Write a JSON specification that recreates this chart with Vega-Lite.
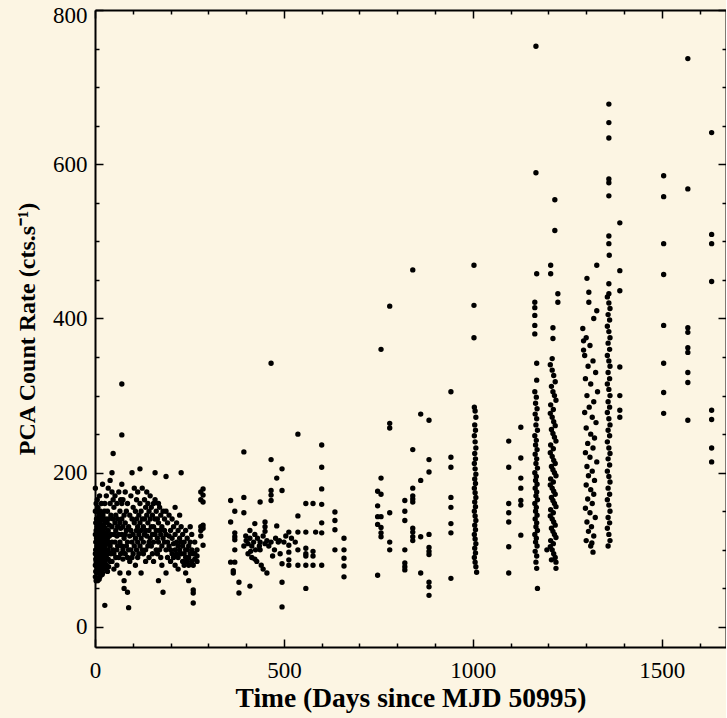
{
"$schema": "https://vega.github.io/schema/vega-lite/v6.json",
"width": 631, "height": 637,
"autosize": "none",
"padding": {"left": 95, "top": 10, "right": 0, "bottom": 71},
"background": "#fcf5e3",
"config": {"view": {"stroke": null},
 "axis": {"domainColor": "black", "domainWidth": 2, "tickColor": "black", "tickWidth": 1.5, "grid": false,
  "labelFont": "Liberation Serif", "labelFontSize": 23, "labelColor": "black", "format": "d",
  "titleFont": "Liberation Serif", "titleFontWeight": "bold", "titleColor": "black"}},
"resolve": {"axis": {"x": "independent", "y": "independent"}},
"layer": [
{
"data": {"values": [
{"d":1,"r":180},{"d":1,"r":150},{"d":1,"r":120},{"d":1,"r":95},{"d":1,"r":80},{"d":1,"r":65},
{"d":2,"r":135},{"d":2,"r":110},{"d":2,"r":88},{"d":2,"r":72},{"d":2,"r":100},
{"d":3,"r":160},{"d":3,"r":125},{"d":3,"r":100},{"d":3,"r":85},{"d":3,"r":60},
{"d":4,"r":140},{"d":4,"r":115},{"d":4,"r":92},{"d":4,"r":78},
{"d":5,"r":105},{"d":5,"r":130},{"d":5,"r":70},{"d":5,"r":150},
{"d":6,"r":95},{"d":6,"r":118},{"d":6,"r":82},{"d":6,"r":165},
{"d":7,"r":110},{"d":7,"r":88},{"d":7,"r":140},{"d":7,"r":60},
{"d":8,"r":125},{"d":8,"r":98},{"d":8,"r":75},{"d":8,"r":155},
{"d":9,"r":102},{"d":9,"r":132},{"d":9,"r":86},
{"d":10,"r":115},{"d":10,"r":90},{"d":10,"r":145},{"d":10,"r":70},
{"d":11,"r":128},{"d":11,"r":104},{"d":11,"r":84},{"d":11,"r":62},
{"d":12,"r":120},{"d":12,"r":95},{"d":12,"r":80},{"d":12,"r":170},
{"d":13,"r":108},{"d":13,"r":135},{"d":13,"r":65},
{"d":14,"r":92},{"d":14,"r":118},{"d":14,"r":150},
{"d":15,"r":112},{"d":15,"r":98},{"d":15,"r":138},{"d":15,"r":76},
{"d":16,"r":130},{"d":16,"r":100},{"d":16,"r":85},{"d":16,"r":75},
{"d":17,"r":112},{"d":17,"r":160},{"d":17,"r":95},
{"d":18,"r":105},{"d":18,"r":88},{"d":18,"r":140},
{"d":19,"r":122},{"d":19,"r":96},{"d":19,"r":68},
{"d":20,"r":125},{"d":20,"r":98},{"d":20,"r":70},{"d":20,"r":185},
{"d":21,"r":115},{"d":21,"r":80},{"d":21,"r":145},
{"d":22,"r":132},{"d":22,"r":106},{"d":22,"r":90},
{"d":23,"r":100},{"d":23,"r":130},{"d":23,"r":90},
{"d":24,"r":138},{"d":24,"r":110},{"d":24,"r":75},
{"d":25,"r":120},{"d":25,"r":102},{"d":25,"r":150},
{"d":26,"r":118},{"d":26,"r":95},{"d":26,"r":160},{"d":26,"r":28},
{"d":27,"r":105},{"d":27,"r":85},{"d":27,"r":128},
{"d":28,"r":115},{"d":28,"r":92},{"d":28,"r":78},
{"d":29,"r":140},{"d":29,"r":100},{"d":29,"r":112},
{"d":30,"r":122},{"d":30,"r":90},{"d":30,"r":80},{"d":30,"r":170},
{"d":32,"r":108},{"d":32,"r":135},{"d":32,"r":95},
{"d":33,"r":150},{"d":33,"r":115},{"d":33,"r":72},
{"d":35,"r":125},{"d":35,"r":100},{"d":35,"r":88},{"d":35,"r":180},
{"d":36,"r":110},{"d":36,"r":140},{"d":36,"r":78},
{"d":38,"r":132},{"d":38,"r":96},{"d":38,"r":118},
{"d":40,"r":105},{"d":40,"r":160},{"d":40,"r":85},{"d":40,"r":190},
{"d":42,"r":120},{"d":42,"r":95},{"d":42,"r":145},
{"d":45,"r":200},{"d":45,"r":175},{"d":45,"r":130},{"d":45,"r":110},{"d":45,"r":85},
{"d":48,"r":225},{"d":48,"r":165},{"d":48,"r":140},{"d":48,"r":100},
{"d":50,"r":120},{"d":50,"r":95},{"d":50,"r":155},{"d":50,"r":75},
{"d":53,"r":170},{"d":53,"r":135},{"d":53,"r":110},
{"d":55,"r":145},{"d":55,"r":90},{"d":55,"r":125},
{"d":58,"r":160},{"d":58,"r":118},{"d":58,"r":100},{"d":58,"r":80},
{"d":60,"r":140},{"d":60,"r":105},{"d":60,"r":130},
{"d":63,"r":175},{"d":63,"r":120},{"d":63,"r":90},
{"d":66,"r":150},{"d":66,"r":110},{"d":66,"r":135},{"d":66,"r":70},
{"d":68,"r":165},{"d":68,"r":128},{"d":68,"r":95},
{"d":71,"r":315},{"d":71,"r":249},{"d":71,"r":185},{"d":71,"r":160},{"d":71,"r":140},{"d":71,"r":120},{"d":71,"r":105},
{"d":74,"r":130},{"d":74,"r":100},{"d":74,"r":165},{"d":74,"r":88},
{"d":77,"r":145},{"d":77,"r":115},{"d":77,"r":60},{"d":77,"r":50},
{"d":80,"r":120},{"d":80,"r":95},{"d":80,"r":175},{"d":80,"r":135},
{"d":83,"r":105},{"d":83,"r":150},{"d":83,"r":125},
{"d":86,"r":160},{"d":86,"r":110},{"d":86,"r":90},{"d":86,"r":45},
{"d":89,"r":130},{"d":89,"r":100},{"d":89,"r":25},{"d":89,"r":70},
{"d":92,"r":145},{"d":92,"r":118},{"d":92,"r":85},
{"d":95,"r":170},{"d":95,"r":125},{"d":95,"r":100},
{"d":98,"r":200},{"d":98,"r":140},{"d":98,"r":110},{"d":98,"r":90},
{"d":101,"r":155},{"d":101,"r":120},{"d":101,"r":95},
{"d":104,"r":135},{"d":104,"r":105},{"d":104,"r":180},
{"d":107,"r":150},{"d":107,"r":115},{"d":107,"r":80},
{"d":110,"r":125},{"d":110,"r":100},{"d":110,"r":165},{"d":110,"r":140},
{"d":113,"r":175},{"d":113,"r":130},{"d":113,"r":110},{"d":113,"r":90},
{"d":116,"r":145},{"d":116,"r":120},{"d":116,"r":95},
{"d":119,"r":205},{"d":119,"r":160},{"d":119,"r":135},{"d":119,"r":105},
{"d":122,"r":150},{"d":122,"r":115},{"d":122,"r":125},{"d":122,"r":70},
{"d":125,"r":140},{"d":125,"r":100},{"d":125,"r":180},
{"d":128,"r":130},{"d":128,"r":110},{"d":128,"r":95},
{"d":131,"r":165},{"d":131,"r":120},{"d":131,"r":140},
{"d":134,"r":155},{"d":134,"r":125},{"d":134,"r":100},{"d":134,"r":85},
{"d":137,"r":145},{"d":137,"r":118},{"d":137,"r":175},
{"d":140,"r":135},{"d":140,"r":105},{"d":140,"r":160},
{"d":143,"r":150},{"d":143,"r":125},{"d":143,"r":110},{"d":143,"r":90},
{"d":146,"r":170},{"d":146,"r":140},{"d":146,"r":115},
{"d":149,"r":130},{"d":149,"r":105},{"d":149,"r":155},
{"d":152,"r":145},{"d":152,"r":120},{"d":152,"r":95},
{"d":155,"r":160},{"d":155,"r":130},{"d":155,"r":110},{"d":155,"r":85},
{"d":159,"r":200},{"d":159,"r":165},{"d":159,"r":140},{"d":159,"r":120},
{"d":162,"r":150},{"d":162,"r":125},{"d":162,"r":100},
{"d":165,"r":140},{"d":165,"r":115},{"d":165,"r":95},
{"d":168,"r":135},{"d":168,"r":110},{"d":168,"r":160},{"d":168,"r":60},
{"d":171,"r":155},{"d":171,"r":125},{"d":171,"r":100},
{"d":174,"r":145},{"d":174,"r":120},{"d":174,"r":90},
{"d":177,"r":130},{"d":177,"r":105},{"d":177,"r":80},
{"d":180,"r":150},{"d":180,"r":115},{"d":180,"r":45},
{"d":184,"r":140},{"d":184,"r":110},{"d":184,"r":125},
{"d":188,"r":195},{"d":188,"r":150},{"d":188,"r":120},{"d":188,"r":100},{"d":188,"r":70},
{"d":192,"r":135},{"d":192,"r":110},{"d":192,"r":90},
{"d":196,"r":145},{"d":196,"r":118},{"d":196,"r":105},
{"d":200,"r":125},{"d":200,"r":100},{"d":200,"r":85},
{"d":204,"r":140},{"d":204,"r":115},{"d":204,"r":95},
{"d":208,"r":130},{"d":208,"r":108},{"d":208,"r":90},
{"d":212,"r":120},{"d":212,"r":100},{"d":212,"r":80},{"d":212,"r":155},
{"d":216,"r":135},{"d":216,"r":110},{"d":216,"r":95},
{"d":220,"r":125},{"d":220,"r":105},{"d":220,"r":90},{"d":220,"r":75},
{"d":224,"r":145},{"d":224,"r":115},{"d":224,"r":100},
{"d":228,"r":200},{"d":228,"r":130},{"d":228,"r":110},{"d":228,"r":95},
{"d":232,"r":120},{"d":232,"r":105},{"d":232,"r":85},
{"d":236,"r":110},{"d":236,"r":95},{"d":236,"r":80},
{"d":240,"r":125},{"d":240,"r":100},{"d":240,"r":90},{"d":240,"r":70},
{"d":244,"r":115},{"d":244,"r":100},{"d":244,"r":85},
{"d":248,"r":105},{"d":248,"r":90},{"d":248,"r":80},{"d":248,"r":60},
{"d":252,"r":130},{"d":252,"r":110},{"d":252,"r":95},
{"d":256,"r":100},{"d":256,"r":85},{"d":256,"r":120},
{"d":260,"r":95},{"d":260,"r":80},{"d":260,"r":48},{"d":260,"r":44},{"d":260,"r":31},
{"d":264,"r":110},{"d":264,"r":95},{"d":264,"r":88},
{"d":270,"r":100},{"d":270,"r":92},{"d":270,"r":85},
{"d":280,"r":175},{"d":280,"r":165},{"d":280,"r":130},{"d":280,"r":125},{"d":280,"r":118},
{"d":286,"r":179},{"d":286,"r":171},{"d":286,"r":162},{"d":286,"r":132},{"d":286,"r":128},{"d":286,"r":106},
{"d":359,"r":164},{"d":359,"r":136},{"d":359,"r":84},{"d":366,"r":70},{"d":366,"r":73},{"d":370,"r":150},{"d":370,"r":122},{"d":370,"r":117},{"d":370,"r":113},{"d":370,"r":84},{"d":370,"r":100},
{"d":381,"r":58},{"d":381,"r":44},{"d":394,"r":227},{"d":394,"r":168},{"d":394,"r":148},{"d":394,"r":105},{"d":399,"r":118},{"d":405,"r":95},{"d":410,"r":53},{"d":410,"r":125},{"d":415,"r":90},
{"d":423,"r":134},{"d":423,"r":120},{"d":423,"r":88},{"d":428,"r":85},{"d":437,"r":162},{"d":437,"r":110},{"d":437,"r":100},{"d":440,"r":80},{"d":445,"r":75},
{"d":450,"r":136},{"d":450,"r":130},{"d":450,"r":124},{"d":450,"r":108},{"d":455,"r":70},
{"d":466,"r":342},{"d":466,"r":217},{"d":466,"r":177},{"d":466,"r":171},{"d":466,"r":164},{"d":466,"r":110},{"d":470,"r":92},{"d":475,"r":100},
{"d":481,"r":193},{"d":481,"r":131},{"d":485,"r":110},{"d":490,"r":95},{"d":495,"r":205},{"d":495,"r":177},{"d":495,"r":58},{"d":495,"r":26},{"d":495,"r":82},{"d":500,"r":110},
{"d":513,"r":123},{"d":513,"r":106},{"d":513,"r":97},{"d":513,"r":87},{"d":513,"r":80},
{"d":537,"r":250},{"d":537,"r":144},{"d":537,"r":123},{"d":537,"r":100},{"d":537,"r":80},
{"d":558,"r":160},{"d":558,"r":123},{"d":558,"r":102},{"d":558,"r":95},{"d":558,"r":92},{"d":558,"r":80},{"d":558,"r":50},
{"d":577,"r":160},{"d":577,"r":98},{"d":577,"r":92},{"d":577,"r":80},{"d":584,"r":123},
{"d":600,"r":236},{"d":600,"r":207},{"d":600,"r":179},{"d":600,"r":159},{"d":600,"r":135},{"d":600,"r":122},{"d":600,"r":80},
{"d":635,"r":149},{"d":635,"r":138},{"d":635,"r":126},{"d":635,"r":100},
{"d":659,"r":115},{"d":659,"r":100},{"d":659,"r":89},{"d":659,"r":79},{"d":659,"r":65},
{"d":400,"r":112},{"d":405,"r":108},{"d":410,"r":115},{"d":415,"r":105},{"d":420,"r":110},{"d":425,"r":100},{"d":430,"r":115},{"d":412,"r":98},{"d":435,"r":105},{"d":445,"r":118},{"d":455,"r":112},{"d":460,"r":105},{"d":478,"r":115},{"d":488,"r":112},{"d":505,"r":118},{"d":520,"r":115},{"d":530,"r":110},
{"d":748,"r":176},{"d":748,"r":157},{"d":748,"r":143},{"d":748,"r":133},{"d":748,"r":67},
{"d":757,"r":360},{"d":757,"r":193},{"d":757,"r":172},{"d":757,"r":143},{"d":757,"r":129},{"d":757,"r":122},{"d":757,"r":117},
{"d":780,"r":416},{"d":780,"r":264},{"d":780,"r":258},{"d":780,"r":148},{"d":780,"r":110},{"d":780,"r":100},
{"d":820,"r":164},{"d":820,"r":150},{"d":820,"r":138},{"d":820,"r":100},{"d":820,"r":83},{"d":820,"r":78},{"d":820,"r":74},
{"d":841,"r":463},{"d":841,"r":230},{"d":841,"r":180},{"d":841,"r":170},{"d":841,"r":166},{"d":841,"r":162},{"d":841,"r":128},{"d":841,"r":123},{"d":841,"r":117},{"d":841,"r":112},
{"d":862,"r":276},{"d":862,"r":190},{"d":862,"r":117},{"d":862,"r":70},
{"d":884,"r":268},{"d":884,"r":217},{"d":884,"r":201},{"d":884,"r":120},{"d":884,"r":103},{"d":884,"r":98},{"d":884,"r":94},{"d":884,"r":58},{"d":884,"r":52},{"d":884,"r":41},
{"d":942,"r":305},{"d":942,"r":220},{"d":942,"r":207},{"d":942,"r":168},{"d":942,"r":155},{"d":942,"r":134},{"d":942,"r":122},{"d":942,"r":63},
{"d":1003,"r":469},{"d":1003,"r":417},{"d":1003,"r":375},
{"d":1004,"r":285},{"d":1006,"r":280},{"d":1008,"r":272},{"d":1005,"r":262},{"d":1007,"r":255},{"d":1004,"r":248},{"d":1006,"r":240},{"d":1008,"r":232},{"d":1005,"r":225},{"d":1007,"r":218},{"d":1004,"r":212},{"d":1006,"r":205},{"d":1008,"r":198},{"d":1005,"r":192},{"d":1007,"r":186},{"d":1004,"r":180},{"d":1006,"r":174},{"d":1008,"r":168},{"d":1005,"r":162},{"d":1007,"r":156},{"d":1004,"r":150},{"d":1006,"r":144},{"d":1008,"r":138},{"d":1005,"r":132},{"d":1007,"r":126},{"d":1004,"r":120},{"d":1006,"r":114},{"d":1008,"r":108},{"d":1005,"r":102},{"d":1007,"r":96},{"d":1004,"r":90},{"d":1006,"r":84},{"d":1008,"r":78},{"d":1010,"r":71},
{"d":1095,"r":241},{"d":1095,"r":207},{"d":1095,"r":160},{"d":1095,"r":148},{"d":1095,"r":136},{"d":1095,"r":104},{"d":1095,"r":70},
{"d":1127,"r":259},{"d":1127,"r":219},{"d":1127,"r":193},{"d":1127,"r":180},{"d":1127,"r":164},{"d":1127,"r":158},{"d":1127,"r":119},
{"d":1167,"r":753},{"d":1167,"r":589},
{"d":1164,"r":421},{"d":1164,"r":414},{"d":1164,"r":404},{"d":1164,"r":391},{"d":1164,"r":380},{"d":1169,"r":458},{"d":1169,"r":342},{"d":1169,"r":320},
{"d":1164,"r":305},{"d":1168,"r":298},{"d":1166,"r":290},{"d":1170,"r":283},{"d":1165,"r":276},{"d":1169,"r":270},{"d":1167,"r":262},{"d":1171,"r":255},{"d":1164,"r":248},{"d":1168,"r":242},{"d":1166,"r":236},{"d":1170,"r":230},{"d":1165,"r":224},{"d":1169,"r":218},{"d":1167,"r":212},{"d":1171,"r":206},{"d":1164,"r":200},{"d":1168,"r":195},{"d":1166,"r":190},{"d":1170,"r":185},{"d":1165,"r":180},{"d":1169,"r":175},{"d":1167,"r":170},{"d":1171,"r":165},{"d":1164,"r":160},{"d":1168,"r":155},{"d":1166,"r":150},{"d":1170,"r":145},{"d":1165,"r":140},{"d":1169,"r":135},{"d":1167,"r":130},{"d":1171,"r":125},{"d":1164,"r":120},{"d":1168,"r":115},{"d":1166,"r":110},{"d":1170,"r":105},{"d":1165,"r":98},{"d":1169,"r":92},{"d":1167,"r":84},{"d":1169,"r":76},{"d":1171,"r":50},
{"d":1217,"r":554},{"d":1217,"r":514},{"d":1206,"r":469},{"d":1206,"r":458},{"d":1225,"r":432},{"d":1225,"r":421},{"d":1212,"r":388},{"d":1212,"r":374},{"d":1210,"r":348},
{"d":1205,"r":340},{"d":1210,"r":333},{"d":1214,"r":326},{"d":1218,"r":318},{"d":1208,"r":312},{"d":1212,"r":305},{"d":1216,"r":300},{"d":1220,"r":294},{"d":1206,"r":288},{"d":1213,"r":282},{"d":1205,"r":277},{"d":1210,"r":272},{"d":1214,"r":266},{"d":1218,"r":261},{"d":1208,"r":256},{"d":1212,"r":251},{"d":1216,"r":246},{"d":1220,"r":241},{"d":1206,"r":236},{"d":1213,"r":231},{"d":1205,"r":226},{"d":1210,"r":221},{"d":1214,"r":216},{"d":1218,"r":212},{"d":1208,"r":208},{"d":1212,"r":204},{"d":1216,"r":200},{"d":1220,"r":196},{"d":1206,"r":192},{"d":1213,"r":188},{"d":1205,"r":184},{"d":1210,"r":180},{"d":1214,"r":176},{"d":1218,"r":172},{"d":1208,"r":168},{"d":1212,"r":164},{"d":1216,"r":160},{"d":1220,"r":156},{"d":1206,"r":152},{"d":1213,"r":148},{"d":1205,"r":144},{"d":1210,"r":140},{"d":1214,"r":136},{"d":1218,"r":132},{"d":1208,"r":128},{"d":1212,"r":124},{"d":1216,"r":120},{"d":1220,"r":116},{"d":1206,"r":112},{"d":1213,"r":108},{"d":1205,"r":104},{"d":1210,"r":100},{"d":1214,"r":95},{"d":1218,"r":90},{"d":1208,"r":87},{"d":1196,"r":100},{"d":1220,"r":84},{"d":1220,"r":76},
{"d":1360,"r":678},{"d":1360,"r":654},{"d":1360,"r":634},{"d":1360,"r":581},{"d":1360,"r":576},{"d":1360,"r":559},{"d":1389,"r":524},{"d":1360,"r":507},{"d":1360,"r":497},{"d":1361,"r":482},{"d":1389,"r":462},{"d":1328,"r":469},{"d":1302,"r":452},{"d":1389,"r":436},{"d":1360,"r":445},{"d":1360,"r":432},{"d":1307,"r":434},{"d":1307,"r":421},{"d":1328,"r":410},{"d":1320,"r":400},{"d":1291,"r":387},{"d":1293,"r":371},{"d":1293,"r":359},{"d":1389,"r":337},{"d":1389,"r":300},{"d":1389,"r":281},{"d":1389,"r":272},{"d":1315,"r":109},
{"d":1356,"r":428},{"d":1360,"r":420},{"d":1363,"r":413},{"d":1358,"r":405},{"d":1362,"r":398},{"d":1356,"r":390},{"d":1360,"r":383},{"d":1363,"r":375},{"d":1358,"r":368},{"d":1362,"r":360},{"d":1356,"r":352},{"d":1360,"r":345},{"d":1363,"r":338},{"d":1358,"r":330},{"d":1362,"r":322},{"d":1356,"r":315},{"d":1360,"r":308},{"d":1363,"r":300},{"d":1358,"r":292},{"d":1362,"r":285},{"d":1356,"r":278},{"d":1360,"r":270},{"d":1363,"r":262},{"d":1358,"r":255},{"d":1362,"r":248},{"d":1356,"r":240},{"d":1360,"r":232},{"d":1363,"r":225},{"d":1358,"r":218},{"d":1362,"r":210},{"d":1356,"r":202},{"d":1360,"r":195},{"d":1363,"r":188},{"d":1358,"r":180},{"d":1362,"r":172},{"d":1356,"r":165},{"d":1360,"r":158},{"d":1363,"r":150},{"d":1358,"r":142},{"d":1362,"r":135},{"d":1356,"r":128},{"d":1360,"r":120},{"d":1363,"r":112},{"d":1358,"r":105},
{"d":1300,"r":375},{"d":1310,"r":365},{"d":1296,"r":352},{"d":1318,"r":345},{"d":1305,"r":338},{"d":1325,"r":330},{"d":1298,"r":322},{"d":1312,"r":315},{"d":1330,"r":305},{"d":1302,"r":300},{"d":1320,"r":292},{"d":1308,"r":285},{"d":1296,"r":278},{"d":1316,"r":272},{"d":1326,"r":265},{"d":1300,"r":258},{"d":1312,"r":250},{"d":1322,"r":245},{"d":1304,"r":238},{"d":1318,"r":232},{"d":1298,"r":226},{"d":1310,"r":220},{"d":1328,"r":214},{"d":1302,"r":208},{"d":1316,"r":202},{"d":1306,"r":196},{"d":1322,"r":190},{"d":1300,"r":184},{"d":1312,"r":178},{"d":1320,"r":172},{"d":1304,"r":166},{"d":1316,"r":160},{"d":1298,"r":154},{"d":1310,"r":148},{"d":1324,"r":142},{"d":1302,"r":136},{"d":1314,"r":130},{"d":1306,"r":124},{"d":1320,"r":118},{"d":1300,"r":112},{"d":1312,"r":105},{"d":1318,"r":97},
{"d":1569,"r":737},{"d":1632,"r":641},{"d":1505,"r":585},{"d":1505,"r":558},{"d":1569,"r":568},{"d":1632,"r":509},{"d":1632,"r":497},{"d":1505,"r":497},{"d":1505,"r":457},{"d":1632,"r":448},{"d":1505,"r":391},{"d":1569,"r":388},{"d":1569,"r":382},{"d":1569,"r":362},{"d":1569,"r":356},{"d":1505,"r":342},{"d":1569,"r":330},{"d":1569,"r":317},{"d":1505,"r":304},{"d":1505,"r":277},{"d":1569,"r":268},{"d":1632,"r":281},{"d":1632,"r":269},{"d":1632,"r":232},{"d":1632,"r":214}
]},
"mark": {"type": "circle", "size": 29, "color": "black", "opacity": 1},
"encoding": {
 "x": {"field": "d", "type": "quantitative", "scale": {"domain": [0, 1670], "nice": false, "zero": false},
  "axis": {"orient": "bottom", "title": "Time (Days since MJD 50995)", "titleFontSize": 27.5, "values": [0,500,1000,1500],
   "tickSize": -8, "labelPadding": 20, "titlePadding": 2, "labelOverlap": false, "labelFlush": false}},
 "y": {"field": "r", "type": "quantitative", "scale": {"domain": [-26, 800], "nice": false, "zero": false},
  "axis": {"orient": "left", "title": "PCA Count Rate (cts.s⁻¹)", "titleFontSize": 24, "values": [0,200,400,600,800],
   "tickSize": -8, "labelPadding": 16, "titlePadding": 13, "labelOverlap": false, "labelFlush": true, "labelFlushOffset": 6}}
}
},
{
"data": {"values": [{"d": 0, "r": 0}]},
"mark": {"type": "circle", "opacity": 0},
"encoding": {
 "x": {"field": "d", "type": "quantitative", "scale": {"domain": [0, 1670], "nice": false, "zero": false},
  "axis": {"orient": "top", "title": null, "values": [0,500,1000,1500], "labels": false, "tickSize": -8}},
 "y": {"field": "r", "type": "quantitative", "scale": {"domain": [-26, 800], "nice": false, "zero": false},
  "axis": {"orient": "right", "title": null, "values": [0,200,400,600,800], "labels": false, "tickSize": -8}}
}
},
{
"data": {"values": [{"d": 0, "r": 0}]},
"mark": {"type": "circle", "opacity": 0},
"encoding": {
 "x": {"field": "d", "type": "quantitative", "scale": {"domain": [0, 1670], "nice": false, "zero": false},
  "axis": {"orient": "bottom", "title": null, "values": [100,200,300,400,600,700,800,900,1100,1200,1300,1400,1600], "labels": false, "tickSize": -4, "domain": false}},
 "y": {"field": "r", "type": "quantitative", "scale": {"domain": [-26, 800], "nice": false, "zero": false},
  "axis": {"orient": "left", "title": null, "values": [50,100,150,250,300,350,450,500,550,650,700,750], "labels": false, "tickSize": -4, "domain": false}}
}
},
{
"data": {"values": [{"d": 0, "r": 0}]},
"mark": {"type": "circle", "opacity": 0},
"encoding": {
 "x": {"field": "d", "type": "quantitative", "scale": {"domain": [0, 1670], "nice": false, "zero": false},
  "axis": {"orient": "top", "title": null, "values": [100,200,300,400,600,700,800,900,1100,1200,1300,1400,1600], "labels": false, "tickSize": -4, "domain": false}},
 "y": {"field": "r", "type": "quantitative", "scale": {"domain": [-26, 800], "nice": false, "zero": false},
  "axis": {"orient": "right", "title": null, "values": [50,100,150,250,300,350,450,500,550,650,700,750], "labels": false, "tickSize": -4, "domain": false}}
}
}
]
}
